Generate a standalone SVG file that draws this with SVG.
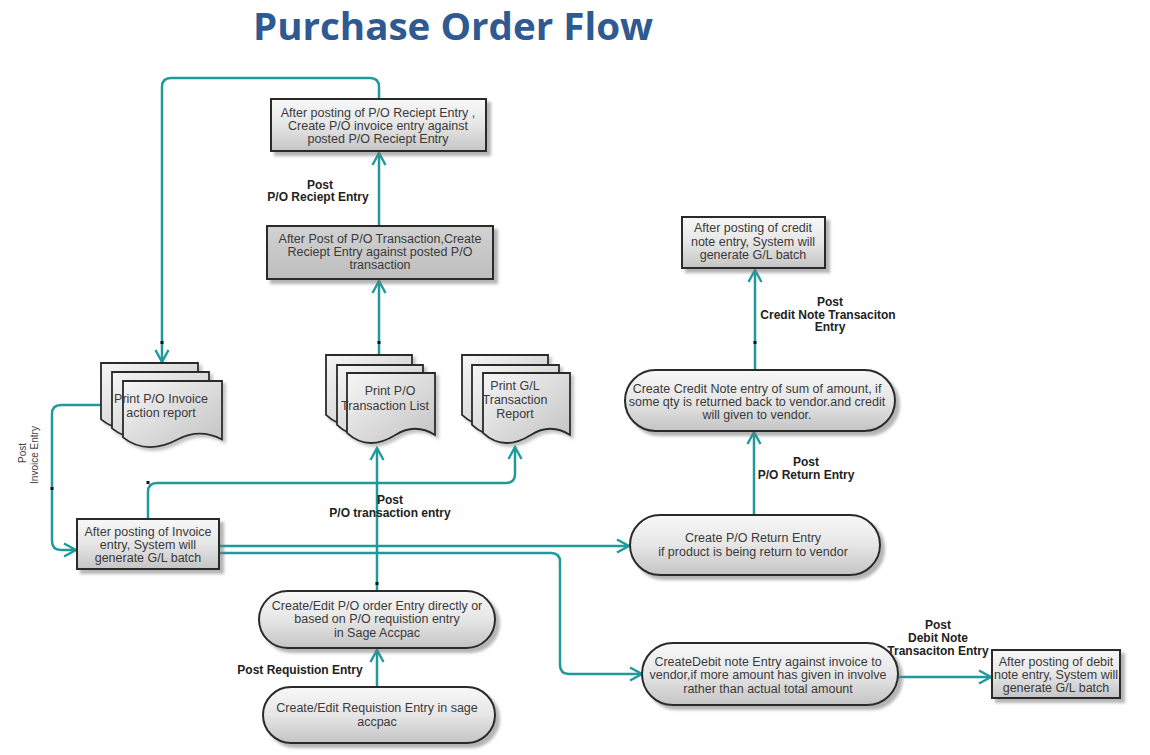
<svg xmlns="http://www.w3.org/2000/svg" width="1150" height="755" viewBox="0 0 1150 755">
<defs>
<linearGradient id="g1" x1="0" y1="0" x2="0" y2="1">
<stop offset="0" stop-color="#f8f8f8"/><stop offset="0.5" stop-color="#e6e6e6"/><stop offset="1" stop-color="#c4c4c4"/>
</linearGradient>
<linearGradient id="g2" x1="0" y1="0" x2="0" y2="1">
<stop offset="0" stop-color="#d2d2d2"/><stop offset="1" stop-color="#bdbdbd"/>
</linearGradient>
<linearGradient id="gd" x1="0" y1="0" x2="1" y2="1">
<stop offset="0" stop-color="#f6f6f6"/><stop offset="1" stop-color="#c2c2c2"/>
</linearGradient>
<filter id="sh" x="-10%" y="-10%" width="130%" height="140%">
<feDropShadow dx="4" dy="4" stdDeviation="1.5" flood-color="#777" flood-opacity="0.55"/>
</filter>
<filter id="shd" x="-10%" y="-10%" width="130%" height="140%">
<feDropShadow dx="3" dy="3" stdDeviation="1.5" flood-color="#888" flood-opacity="0.5"/>
</filter>
<marker id="arr" markerUnits="userSpaceOnUse" markerWidth="18" markerHeight="18" refX="14" refY="9" orient="auto" viewBox="0 0 18 18">
<path d="M2,2.5 L14,9 L2,15.5" fill="none" stroke="#1e9a9a" stroke-width="2.4"/>
</marker>
<path id="d97" d="M0,0 H97 V58.5 C82.5,50.7 67.9,50.7 53.4,58.5 S19.4,72 0,56.4 Z"/>
<path id="d99" d="M0,0 H99 V58.5 C84.2,50.7 69.3,50.7 54.5,58.5 S19.8,72 0,56.4 Z"/>
<path id="d86" d="M0,0 H86 V61.9 C73.1,53.7 60.2,53.7 47.3,61.9 S17.2,76 0,59.8 Z"/>
<path id="d87" d="M0,0 H87 V61.9 C74,53.7 60.9,53.7 47.9,61.9 S17.4,76 0,59.8 Z"/>
<path id="d88" d="M0,0 H88 V61.9 C74.8,53.7 61.6,53.7 48.4,61.9 S17.6,76 0,59.8 Z"/>
</defs>
<style>
.box{fill:url(#g1);stroke:#2b2b2b;stroke-width:2;filter:url(#sh)}
.boxd{fill:url(#g2);stroke:#2b2b2b;stroke-width:2;filter:url(#sh)}
.doc{fill:url(#gd);stroke:#2b2b2b;stroke-width:1.8;filter:url(#shd)}
.t{font-family:"Liberation Sans",Arial,sans-serif;font-size:12.5px;fill:#3a3a3a;text-anchor:middle}
.lb{font-family:"Liberation Sans",Arial,sans-serif;font-size:12px;font-weight:bold;fill:#222;text-anchor:middle}
.lr{font-family:"Liberation Sans",Arial,sans-serif;font-size:10px;fill:#444;text-anchor:middle}
.c{fill:none;stroke:#1e9a9a;stroke-width:2.5;stroke-linejoin:round}
.tick{fill:#111}
</style>
<rect width="1150" height="755" fill="#ffffff"/>
<text x="453" y="40" font-family="'Open Sans','Liberation Sans',sans-serif" font-size="38" font-weight="bold" fill="#2f5a91" text-anchor="middle" textLength="400" lengthAdjust="spacingAndGlyphs">Purchase Order Flow</text>

<g id="connectors">
<path class="c" d="M377,687 V650" marker-end="url(#arr)"/>
<path class="c" d="M377,591 V448" marker-end="url(#arr)"/>
<path class="c" d="M379,355 V281" marker-end="url(#arr)"/>
<path class="c" d="M379,226 V153" marker-end="url(#arr)"/>
<path class="c" d="M379,99 V87 Q379,78 370,78 H171 Q162,78 162,87 V362" marker-end="url(#arr)"/>
<path class="c" d="M102,405 H61 Q52,405 52,414 V541 Q52,550 61,550 H76" marker-end="url(#arr)"/>
<path class="c" d="M148,519 V492 Q148,483 157,483 H506 Q515,483 515,474 V447" marker-end="url(#arr)"/>
<path class="c" d="M219,546 H629" marker-end="url(#arr)"/>
<path class="c" d="M219,553 H551 Q560,553 560,562 V665 Q560,674 569,674 H642" marker-end="url(#arr)"/>
<path class="c" d="M754,515 V432" marker-end="url(#arr)"/>
<path class="c" d="M755,370 V270" marker-end="url(#arr)"/>
<path class="c" d="M898,677 H991" marker-end="url(#arr)"/>
<rect class="tick" x="160.5" y="341" width="3" height="3"/>
<rect class="tick" x="50.5" y="487" width="3" height="3"/>
<rect class="tick" x="146.5" y="481" width="3" height="3"/>
<rect class="tick" x="377.5" y="341" width="3" height="3"/>
<rect class="tick" x="375.5" y="582" width="3" height="3"/>
<rect class="tick" x="753.5" y="341" width="3" height="3"/>
</g>

<g id="labels">
<text class="lb" x="320" y="189">Post</text>
<text class="lb" x="318" y="201">P/O Reciept Entry</text>
<text class="lb" x="390" y="504">Post</text>
<text class="lb" x="390" y="517">P/O transaction entry</text>
<text class="lb" x="300" y="674">Post Requistion Entry</text>
<text class="lb" x="806" y="466">Post</text>
<text class="lb" x="806" y="479">P/O Return Entry</text>
<text class="lb" x="830" y="306">Post</text>
<text class="lb" x="828" y="319">Credit Note Transaciton</text>
<text class="lb" x="830" y="331">Entry</text>
<text class="lb" x="938" y="629">Post</text>
<text class="lb" x="938" y="642">Debit Note</text>
<text class="lb" x="938" y="655">Transaciton Entry</text>
<text class="lr" transform="translate(26,453) rotate(-90)">Post</text>
<text class="lr" transform="translate(38,455) rotate(-90)">Invoice Entry</text>
</g>

<g id="node-po-invoice-entry">
<rect class="box" x="271" y="99" width="215" height="52"/>
<text class="t" x="378" y="117">After posting of P/O Reciept Entry ,</text>
<text class="t" x="378" y="130">Create P/O invoice entry against</text>
<text class="t" x="378" y="143">posted P/O Reciept Entry</text>
</g>

<g id="node-receipt-entry">
<rect class="boxd" x="267" y="226" width="226" height="53"/>
<text class="t" x="380" y="243">After Post of P/O Transaction,Create</text>
<text class="t" x="380" y="256">Reciept Entry against posted P/O</text>
<text class="t" x="380" y="269">transaction</text>
</g>

<g id="node-print-invoice-report">
<use href="#d97" class="doc" transform="translate(101,363)"/>
<use href="#d97" class="doc" transform="translate(112,372)"/>
<use href="#d99" class="doc" transform="translate(123,381)"/>
<text class="t" x="161" y="403">Print P/O Invoice</text>
<text class="t" x="161" y="417">action report</text>
</g>

<g id="node-print-transaction-list">
<use href="#d86" class="doc" transform="translate(326,355)"/>
<use href="#d86" class="doc" transform="translate(337,365)"/>
<use href="#d88" class="doc" transform="translate(347,373)"/>
<text class="t" x="390" y="395">Print P/O</text>
<text class="t" x="385" y="410">Transaction List</text>
</g>

<g id="node-print-gl-report">
<use href="#d86" class="doc" transform="translate(462,355)"/>
<use href="#d87" class="doc" transform="translate(472,365)"/>
<use href="#d87" class="doc" transform="translate(483,373)"/>
<text class="t" x="515" y="390">Print G/L</text>
<text class="t" x="515" y="404">Transaction</text>
<text class="t" x="515" y="418">Report</text>
</g>

<g id="node-invoice-gl-batch">
<rect class="box" x="77" y="519" width="142" height="50"/>
<text class="t" x="148" y="536">After posting of Invoice</text>
<text class="t" x="148" y="549">entry, System will</text>
<text class="t" x="148" y="562">generate G/L batch</text>
</g>

<g id="node-po-order-entry">
<rect class="box" x="259" y="591" width="236" height="57" rx="28.5"/>
<text class="t" x="377" y="610">Create/Edit P/O order Entry directly or</text>
<text class="t" x="377" y="623">based on P/O requistion entry</text>
<text class="t" x="377" y="637">in Sage Accpac</text>
</g>

<g id="node-requisition-entry">
<rect class="box" x="263" y="687" width="232" height="56" rx="28"/>
<text class="t" x="377" y="712">Create/Edit Requistion Entry in sage</text>
<text class="t" x="377" y="726">accpac</text>
</g>

<g id="node-po-return-entry">
<rect class="box" x="630" y="515" width="250" height="60" rx="30"/>
<text class="t" x="753" y="542">Create P/O Return Entry</text>
<text class="t" x="753" y="556">if product is being return to vendor</text>
</g>

<g id="node-credit-note-entry">
<rect class="box" x="625" y="370" width="270" height="61" rx="30.5"/>
<text class="t" x="757" y="393">Create Credit Note entry of sum of amount, if</text>
<text class="t" x="757" y="406">some qty is returned back to vendor.and credit</text>
<text class="t" x="757" y="419">will given to vendor.</text>
</g>

<g id="node-credit-gl-batch">
<rect class="box" x="682" y="217" width="143" height="51"/>
<text class="t" x="753" y="232">After posting of credit</text>
<text class="t" x="753" y="246">note entry, System will</text>
<text class="t" x="753" y="259">generate G/L batch</text>
</g>

<g id="node-debit-note-entry">
<rect class="box" x="642" y="643" width="256" height="62" rx="31"/>
<text class="t" x="768" y="666">CreateDebit note Entry against invoice to</text>
<text class="t" x="768" y="679">vendor,if more amount has given in involve</text>
<text class="t" x="768" y="693">rather than actual total amount</text>
</g>

<g id="node-debit-gl-batch">
<rect class="box" x="992" y="650" width="128" height="48"/>
<text class="t" x="1056" y="666">After posting of debit</text>
<text class="t" x="1056" y="679">note entry, System will</text>
<text class="t" x="1056" y="692">generate G/L batch</text>
</g>
</svg>
